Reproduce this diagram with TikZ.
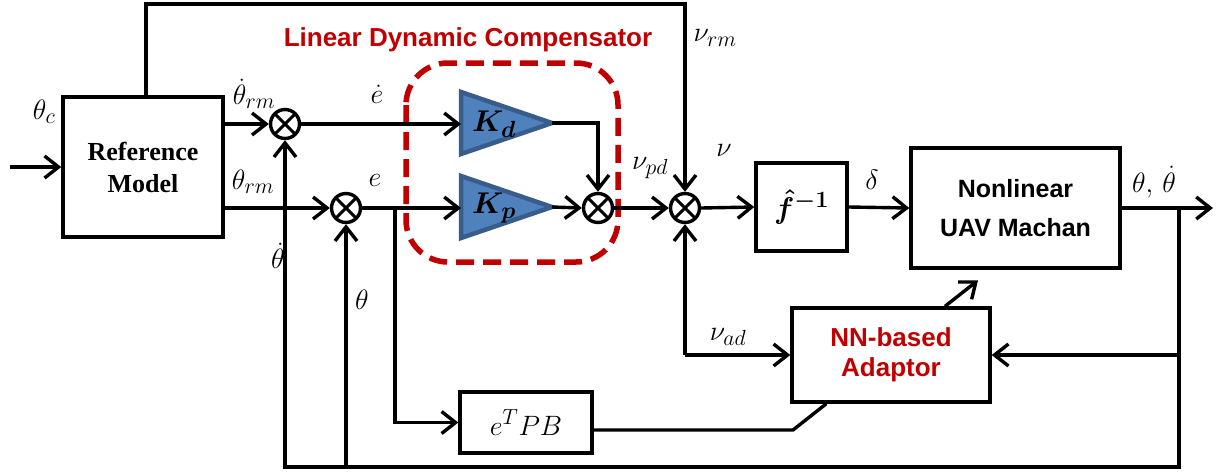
\RequirePackage{fix-cm}
\documentclass[tikz,border=0pt]{standalone}
\usepackage{amsmath}
\usepackage{fontspec}
\setmainfont{Liberation Serif}
\setsansfont{Liberation Sans}
\renewcommand{\defaultscriptratio}{.78}
\usetikzlibrary{arrows.meta,calc}
\definecolor{dred}{HTML}{C00000}
\definecolor{gfill}{HTML}{4F81BD}
\definecolor{gedge}{HTML}{385D8A}
\tikzset{
  box/.style={draw, line width=3.4pt, inner sep=0pt, align=center},
  sumnode/.style={circle, draw, line width=3.4pt, minimum size=29pt, inner sep=0pt,
    path picture={\draw[line width=3pt] (path picture bounding box.north west)--(path picture bounding box.south east)
      (path picture bounding box.north east)--(path picture bounding box.south west);}},
  lbl/.style={font=\fontsize{28}{32}\selectfont, inner sep=0pt},
  sanslbl/.style={font=\fontsize{26}{30}\selectfont\sffamily\bfseries, inner sep=0pt, align=center},
  gain/.style={fill=gfill, draw=gedge, line width=4.5pt, line join=miter},
  dashbox/.style={draw=dred, line width=5.5pt, dash pattern=on 18pt off 9pt, rounded corners=42pt},
}
\begin{document}
\begin{tikzpicture}[x=1pt,y=-1pt, >={Straight Barb[length=14pt,width=22pt]}, line width=3.4pt]
\useasboundingbox (0,0) rectangle (1225,472);

% blocks
\node[box, minimum width=160pt, minimum height=140pt, font=\fontsize{26}{32}\selectfont\bfseries] (ref) at (143,167) {Reference\\Model};
\node[box, minimum width=91pt, minimum height=88pt] (finv) at (801.5,207) {\fontsize{30}{34}\selectfont$\boldsymbol{\hat{f}^{-1}}$};
\node[box, minimum width=209pt, minimum height=120pt, font=\fontsize{25}{39}\selectfont\sffamily\bfseries] (plant) at (1015.5,208) {Nonlinear\\UAV Machan};
\node[box, minimum width=198pt, minimum height=94pt, text=dred, font=\fontsize{26}{30}\selectfont\sffamily\bfseries] (nn) at (891,355) {NN-based\\Adaptor};
\node[box, minimum width=132pt, minimum height=61pt] (etpb) at (526,422.5) {\fontsize{28}{32}\selectfont$e^TPB$};

% summing junctions
\node[sumnode] (s1) at (285,124) {};
\node[sumnode] (s2) at (346,208) {};
\node[sumnode] (s4) at (598,208) {};
\node[sumnode] (s3) at (685,208) {};

% dashed compensator
\draw[dashbox] (406,63) rectangle (618,262);
\node[sanslbl, text=dred] (ldc) at (468,40) {Linear Dynamic Compensator};

% gains
\draw[gain] (461,92) -- (552,123) -- (461,154) -- cycle;
\draw[gain] (461,176) -- (552,207) -- (461,238) -- cycle;
\coordinate (kdin) at (461,124);
\coordinate (kdout) at (552,123);
\coordinate (kpin) at (461,208);
\coordinate (kpout) at (552,207);
\node[font=\fontsize{30}{34}\selectfont, inner sep=0pt] (kd) at (494,124) {$\boldsymbol{K_d}$};
\node[font=\fontsize{30}{34}\selectfont, inner sep=0pt] (kp) at (494,208) {$\boldsymbol{K_p}$};

% coordinates
\coordinate (in) at (10,167);
\coordinate (top) at (685,4);
\coordinate (out) at (1213,208);
\coordinate (br) at (1179,208);
\coordinate (bl) at (285,467);
\coordinate (eb) at (395,208);
\coordinate (vad) at (685,355);
\coordinate (lk) at (793,430);

% wires
\draw[->] (in) -- (ref.west);
\draw[->] (ref.east |- s1) -- (s1.west);
\draw[->] (ref.east |- s2) -- (s2.west);
\draw[->] ($(ref.north)+(3,0)$) |- (top) -- (s3.north);
\draw[->] (s1.east) -- (kdin);
\draw[->] (s2.east) -- (kpin);
\draw[->] (kdout) -| (s4.north);
\draw[->] (kpout) -- (s4.west);
\draw[->] (s4.east) -- (s3.west);
\draw[->] (s3.east) -- (finv.west);
\draw[->] (finv.east) -- (plant.west);
\draw[->] (plant.east) -- (out);
\draw[->] (br) |- (bl) -- (s1.south);
\draw[->] (s2 |- bl) -- (s2.south);
\draw[->] (br |- nn) -- (nn.east);
\draw[->] (vad) -- (s3.south);
\draw[->] (vad) -- (nn.west);
\draw[->] (eb) |- (etpb.west);
\draw (etpb.east |- lk) -- (lk) -- ($(nn.south west)+(36,0)$);
\draw[->] ($(nn.north)+(54,0)$) -- ++(33,-26);

% labels
\node[lbl] (lthc) at (44,112) {$\theta_c$};
\node[lbl] (lthrmd) at (254,94) {$\dot\theta_{rm}$};
\node[lbl] (lthrm) at (253,182) {$\theta_{rm}$};
\node[lbl] (led) at (377,94) {$\dot e$};
\node[lbl] (le) at (375,180) {$e$};
\node[lbl] (lvpd) at (650,168) {$\nu_{pd}$};
\node[lbl] (lv) at (724,150) {$\nu$};
\node[lbl] (lvrm) at (715,38) {$\nu_{rm}$};
\node[lbl] (ldelta) at (872,180) {$\delta$};
\node[lbl] (lout) at (1154,182) {$\theta,\,\dot\theta$};
\node[lbl] (lthd) at (278,256) {$\dot\theta$};
\node[lbl] (lth) at (362,300) {$\theta$};
\node[lbl] (lvad) at (728,337) {$\nu_{ad}$};
\end{tikzpicture}
\end{document}
